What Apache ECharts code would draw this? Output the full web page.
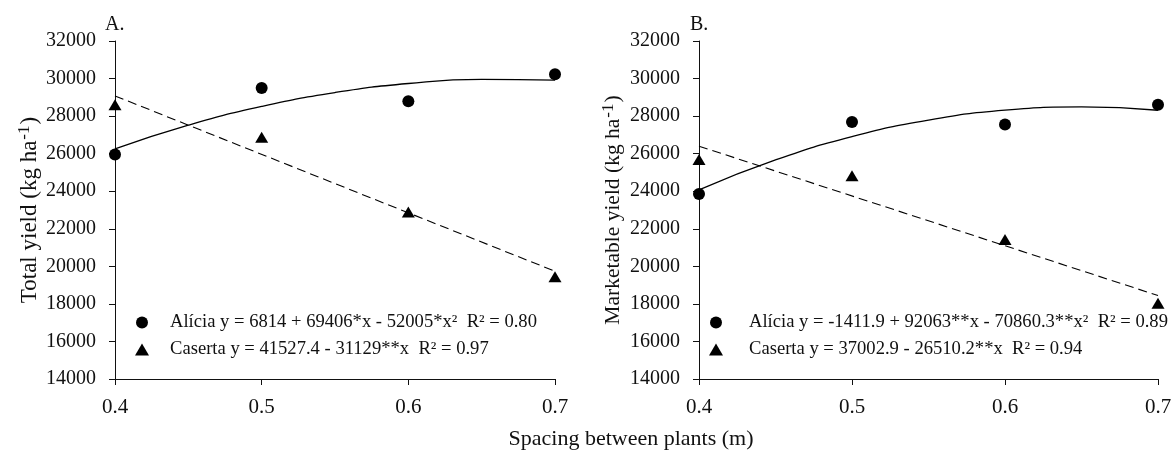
<!DOCTYPE html>
<html>
<head>
<meta charset="utf-8">
<script src="https://cdn.jsdelivr.net/npm/echarts@6/dist/echarts.min.js"></script>
<style>
  html, body { margin: 0; padding: 0; background: #fff; }
  #chart { width: 1175px; height: 455px; }
</style>
</head>
<body>
<div id="chart"></div>
<script>
  // observed means
  const spacing = [0.4, 0.5, 0.6, 0.7]
  const totalAlicia = [25950, 29500, 28790, 30230]
  const totalCaserta = [28600, 26870, 22900, 19450]
  const marketAlicia = [23850, 27690, 27550, 28610]
  const marketCaserta = [25690, 24820, 21430, 18030]

  // fitted curves
  const curveX = [0.4, 0.45, 0.5, 0.55, 0.6, 0.65, 0.7]
  const totalAliciaFit = [26255, 27516, 28516, 29256, 29736, 29956, 29916]
  const marketAliciaFit = [24076, 25667, 26905, 27788, 28316, 28491, 28311]
  const lineX = [0.4, 0.7]
  const totalCasertaFit = [29076, 19737]
  const marketCasertaFit = [26399, 18446]

  const legendA = [
    'Alícia y = 6814 + 69406*x - 52005*x²  R² = 0.80',
    'Caserta y = 41527.4 - 31129**x  R² = 0.97'
  ]
  const legendB = [
    'Alícia y = -1411.9 + 92063**x - 70860.3**x²  R² = 0.89',
    'Caserta y = 37002.9 - 26510.2**x  R² = 0.94'
  ]

  const font = 'Liberation Serif'
  const ink = '#111'

  const pairs = (xs, ys) => xs.map((x, i) => [x, ys[i]])

  function xAxis(idx) {
    return {
      type: 'value', gridIndex: idx, min: 0.4, max: 0.7, interval: 0.1,
      axisLine: { show: true, onZero: false, lineStyle: { color: ink, width: 1 } },
      axisTick: { show: true, length: 6, lineStyle: { color: ink } },
      axisLabel: { color: ink, fontFamily: font, fontSize: 21, margin: 18,
        formatter: v => v.toFixed(1) },
      splitLine: { show: false }
    }
  }

  function yAxis(idx, title, size) {
    return {
      type: 'value', gridIndex: idx, min: 14000, max: 32000, interval: 2000,
      name: '{t|' + title + ' (kg ha}{s|-1}{t|)}',
      nameLocation: 'middle', nameGap: 72, nameRotate: 90,
      nameTextStyle: {
        rich: {
          t: { fontFamily: font, fontSize: size, color: ink },
          s: { fontFamily: font, fontSize: 17, color: ink, padding: [0, 1, 10, 1] }
        }
      },
      axisLine: { show: true, lineStyle: { color: ink, width: 1 } },
      axisTick: { show: true, length: 6, lineStyle: { color: ink } },
      axisLabel: { color: ink, fontFamily: font, fontSize: 20, margin: 19,
        formatter: v => String(v) },
      splitLine: { show: false }
    }
  }

  function panelSeries(idx, names, alicia, caserta, aliciaFit, casertaFit) {
    return [
      {
        name: names[0], type: 'scatter', xAxisIndex: idx, yAxisIndex: idx,
        symbol: 'circle', symbolSize: 12, itemStyle: { color: '#000', opacity: 1 },
        data: pairs(spacing, alicia), z: 5
      },
      {
        name: names[1], type: 'scatter', xAxisIndex: idx, yAxisIndex: idx,
        symbol: 'triangle', symbolSize: [13, 11], itemStyle: { color: '#000', opacity: 1 },
        data: pairs(spacing, caserta), z: 5
      },
      {
        type: 'line', xAxisIndex: idx, yAxisIndex: idx, smooth: true,
        showSymbol: false, silent: true,
        lineStyle: { color: '#000', width: 1.3 },
        data: pairs(curveX, aliciaFit)
      },
      {
        type: 'line', xAxisIndex: idx, yAxisIndex: idx,
        showSymbol: false, silent: true,
        lineStyle: { color: '#000', width: 1.1, type: [9, 5] },
        data: pairs(lineX, casertaFit)
      }
    ]
  }

  function legend(left, names, textPad) {
    return {
      left: left, top: 308, orient: 'vertical',
      itemWidth: 14, itemHeight: 12, itemGap: 8,
      data: names.map(n => ({ name: n })),
      selectedMode: false,
      itemStyle: { opacity: 1 },
      textStyle: { fontFamily: font, fontSize: 18.6, color: ink, padding: [0, 0, 0, textPad] }
    }
  }

  const chart = echarts.init(document.getElementById('chart'), null, { renderer: 'canvas' })
  chart.setOption({
    backgroundColor: '#fff',
    animation: false,
    grid: [
      { left: 115, right: 620, top: 41, bottom: 76 },
      { left: 699, right: 17, top: 41, bottom: 76 }
    ],
    xAxis: [xAxis(0), xAxis(1)],
    yAxis: [yAxis(0, 'Total yield', 23), yAxis(1, 'Marketable yield', 21.5)],
    legend: [legend(130, legendA, 16), legend(704, legendB, 21)],
    graphic: [
      { type: 'text', left: 105, top: 15,
        style: { text: 'A.', fontFamily: font, fontSize: 20, fill: ink } },
      { type: 'text', left: 690, top: 15,
        style: { text: 'B.', fontFamily: font, fontSize: 20, fill: ink } },
      { type: 'text', x: 631, y: 428,
        style: { text: 'Spacing between plants (m)', fontFamily: font, fontSize: 22,
          fill: ink, align: 'center' } }
    ],
    series: [
      ...panelSeries(0, legendA, totalAlicia, totalCaserta, totalAliciaFit, totalCasertaFit),
      ...panelSeries(1, legendB, marketAlicia, marketCaserta, marketAliciaFit, marketCasertaFit)
    ]
  })
</script>
</body>
</html>
